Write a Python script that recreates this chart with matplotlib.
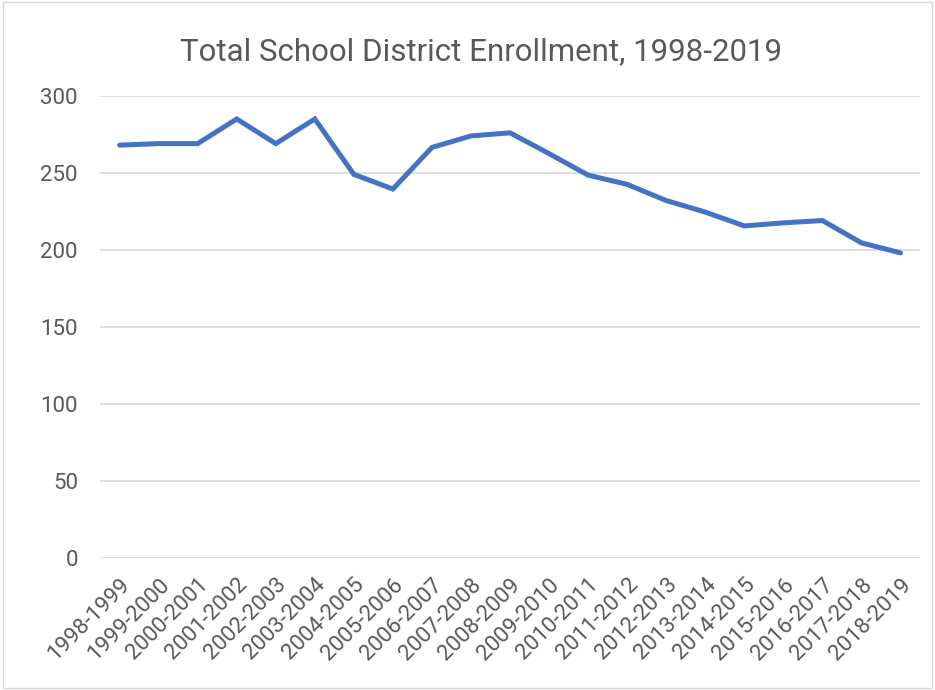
import matplotlib

matplotlib.use("Agg")
import matplotlib.pyplot as plt
from matplotlib.patches import Rectangle

years = [
    "1998-1999", "1999-2000", "2000-2001", "2001-2002", "2002-2003",
    "2003-2004", "2004-2005", "2005-2006", "2006-2007", "2007-2008",
    "2008-2009", "2009-2010", "2010-2011", "2011-2012", "2012-2013",
    "2013-2014", "2014-2015", "2015-2016", "2016-2017", "2017-2018",
    "2018-2019",
]
enrollment = [
    268, 269, 269, 285, 269, 285, 249, 239.5, 266.5, 274, 276,
    262.5, 248.5, 242.5, 232, 224.5, 215.5, 217.5, 219, 204.5, 198,
]
y_ticks = [0, 50, 100, 150, 200, 250, 300]

plt.rcParams["font.family"] = ["Roboto", "DejaVu Sans"]
text_color = "#595959"
grid_color = "#d9d9d9"

fig = plt.figure(figsize=(9.35, 6.9), dpi=100)
fig.patch.set_facecolor("white")
ax = fig.add_axes([0.107, 0.192, 0.877, 0.669])

x = list(range(len(years)))
ax.plot(x, enrollment, color="#4472C4", linewidth=3.6,
        solid_capstyle="round", solid_joinstyle="miter", zorder=3)

ax.set_xlim(-0.5, len(years) - 0.5)
ax.set_ylim(0, 300)
ax.set_yticks(y_ticks)
ax.set_xticks(x)
ax.set_xticklabels(years, rotation=45, ha="right", rotation_mode="anchor")
ax.tick_params(axis="both", length=0, colors=text_color, labelsize=16)
ax.tick_params(axis="y", pad=16)
ax.tick_params(axis="x", pad=12)
ax.grid(axis="y", color=grid_color, linewidth=1.2)
ax.set_axisbelow(True)
for spine in ax.spines.values():
    spine.set_visible(False)

fig.text(0.514, 0.913, "Total School District Enrollment, 1998-2019",
         ha="center", va="baseline", fontsize=22.5, color=text_color)

fig.patches.append(Rectangle((0.003, 0.003), 0.994, 0.994, transform=fig.transFigure,
                             fill=False, edgecolor=grid_color, linewidth=1))

fig.savefig("out.png", dpi=100)
